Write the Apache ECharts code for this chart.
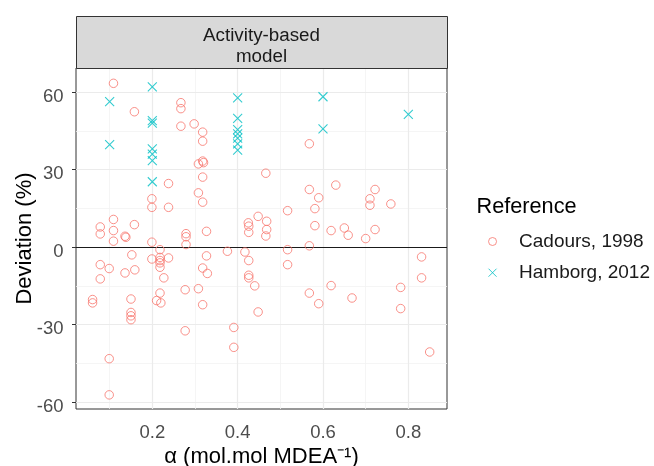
<!DOCTYPE html>
<html><head><meta charset="utf-8">
<script src="https://cdn.jsdelivr.net/npm/echarts@6/dist/echarts.min.js"></script>
<style>html,body{margin:0;padding:0;background:#fff}#c{width:654px;height:466px}</style>
</head><body><div id="c"></div>
<script>
// ---- data ----
const cadoursX = [0.109,0.158,0.267,0.267,0.267,0.298,0.318,0.318,0.318,0.320,0.308,0.318,0.238,0.308,0.318,0.199,0.199,0.238,0.466,0.109,
  0.158,0.078,0.078,0.109,0.109,0.136,0.138,0.199,0.279,0.279,0.279,0.327,0.448,0.425,0.426,0.426,0.468,0.468,0.466,0.568,
  0.568,0.630,0.590,0.722,0.710,0.710,0.759,0.581,0.517,0.581,0.619,0.650,0.659,0.722,0.700,0.568,0.517,0.517,0.831,0.831,
  0.440,0.568,0.590,0.619,0.668,0.782,0.782,0.448,0.850,0.218,0.199,0.218,0.218,0.218,0.218,0.238,0.152,0.078,0.099,0.136,
  0.159,0.078,0.227,0.218,0.210,0.220,0.150,0.150,0.150,0.150,0.060,0.060,0.277,0.277,0.327,0.318,0.329,0.308,0.318,0.376,
  0.417,0.426,0.426,0.426,0.391,0.391,0.099,0.099];
const cadoursY = [63.4,52.4,55.9,53.6,46.8,47.7,44.5,41.0,33.3,32.7,32.2,27.1,24.6,21.0,17.4,18.7,15.4,15.4,28.6,10.7,
  8.7,7.8,5.1,6.4,2.3,4.2,3.8,1.9,5.2,4.0,1.0,6.1,11.9,9.4,8.1,5.7,10.0,6.8,4.3,40.0,
  22.3,24.0,19.1,22.3,18.7,16.2,16.7,14.9,14.1,8.3,6.4,7.4,4.6,6.8,3.3,0.5,-1.0,-6.8,-3.8,-11.9,
  -15.0,-17.8,-21.9,-14.9,-19.7,-15.6,-23.8,-25.1,-40.6,-1.0,-4.6,-4.0,-5.2,-6.1,-7.8,-4.2,-3.0,-6.8,-8.3,-10.0,
  -8.8,-12.3,-11.9,-17.8,-20.7,-21.6,-20.1,-25.3,-26.6,-28.1,-20.3,-21.6,-16.5,-32.4,-3.4,-8.1,-10.2,-16.1,-22.3,-1.6,
  -1.9,-5.2,-10.9,-11.9,-31.1,-38.8,-43.2,-57.2];
const hamborgX = [0.1,0.1,0.2,0.2,0.2,0.2,0.2,0.2,0.2,0.4,0.4,0.4,0.4,0.4,0.4,0.4,0.6,0.6,0.8];
const hamborgY = [56.3,39.7,62.0,49.0,48.0,38.0,36.0,33.5,25.3,57.8,49.8,45.5,43.8,42.2,40.0,37.5,58.2,45.8,51.4];
const xTicks = [0.2,0.4,0.6,0.8];
const xMinor = [0.1,0.3,0.5,0.7];
const yTicks = [-60,-30,0,30,60];
const yMinor = [-45,-15,15,45];
const seriesNames = ['Cadours, 1998','Hamborg, 2012'];
const legendTitle = 'Reference';
const stripText = 'Activity-based\nmodel';
const xTitle = 'α (mol.mol MDEA⁻¹)';
const yTitle = 'Deviation (%)';

// ---- chart ----
const FONT = '"Liberation Sans", Arial, sans-serif';
const G = {left:76, top:68, width:371, height:341};
const zip = (a,b)=>a.map((v,i)=>[v,b[i]]);
const crossPath = 'path://M0,0L10,10M10,0L0,10';
const gridLines = [
  ...xMinor.map(v=>({xAxis:v, lineStyle:{color:'#F2F2F2', width:0.8, type:'solid'}})),
  ...yMinor.map(v=>({yAxis:v, lineStyle:{color:'#F2F2F2', width:0.8, type:'solid'}})),
  ...xTicks.map(v=>({xAxis:v, lineStyle:{color:'#EBEBEB', width:1.2, type:'solid'}})),
  ...yTicks.map(v=>({yAxis:v, lineStyle:{color:'#EBEBEB', width:1.2, type:'solid'}}))
];
const chart = echarts.init(document.getElementById('c'), null, {renderer:'canvas'});
chart.setOption({
  animation:false,
  backgroundColor:'#fff',
  textStyle:{fontFamily:FONT},
  grid:{left:G.left, top:G.top, width:G.width, height:G.height, containLabel:false, outerBoundsMode:'none',
    show:true, borderColor:'#333333', borderWidth:1, backgroundColor:'#fff', z:0},
  xAxis:{type:'value', min:0.02116, max:0.8906,
    name:xTitle, nameLocation:'middle', nameGap:37, nameMoveOverlap:false,
    nameTextStyle:{fontSize:22, color:'#000', fontFamily:FONT},
    axisLine:{show:false},
    axisTick:{show:true, customValues:xTicks, length:4, lineStyle:{color:'#333333', width:1}},
    axisLabel:{customValues:xTicks, formatter:v=>v.toFixed(1), fontSize:18.5, color:'#4D4D4D', margin:14, fontFamily:FONT},
    splitLine:{show:false}},
  yAxis:{type:'value', min:-62.67, max:69.33,
    name:yTitle, nameLocation:'middle', nameGap:40, nameRotate:90, nameMoveOverlap:false,
    nameTextStyle:{fontSize:22, color:'#000', fontFamily:FONT},
    axisLine:{show:false},
    axisTick:{show:true, customValues:yTicks, length:4, lineStyle:{color:'#333333', width:1}},
    axisLabel:{customValues:yTicks, fontSize:18.5, color:'#4D4D4D', margin:12.5, verticalAlign:'top', lineHeight:9, fontFamily:FONT},
    splitLine:{show:false}},
  legend:{orient:'vertical', right:4, top:231.5, padding:0, itemWidth:43, itemHeight:8, itemGap:11.2,
    data:seriesNames, selectedMode:false, symbolKeepAspect:true,
    itemStyle:{borderWidth:1},
    textStyle:{fontSize:19, color:'#1A1A1A', lineHeight:20, fontFamily:FONT}},
  graphic:[
    {type:'rect', left:G.left, top:16, shape:{width:G.width, height:52}, style:{fill:'#D9D9D9', stroke:'#333333', lineWidth:1}, z:10},
    {type:'text', x:G.left+G.width/2, y:46.3, style:{text:stripText, fill:'#1A1A1A', font:'18.8px '+FONT, textAlign:'center', textVerticalAlign:'middle', lineHeight:20.4}, z:11},
    {type:'text', x:476.5, y:206.7, style:{text:legendTitle, fill:'#000', font:'21.7px '+FONT, textAlign:'left', textVerticalAlign:'middle'}, z:11}
  ],
  series:[
    {type:'scatter', name:'grid', data:[], silent:true, z:1,
      markLine:{silent:true, symbol:['none','none'], label:{show:false}, z:1, animation:false, data:gridLines}},
    {type:'scatter', name:'zero', data:[], silent:true, z:1,
      markLine:{silent:true, symbol:['none','none'], label:{show:false}, z:2, animation:false,
        data:[{yAxis:0, lineStyle:{color:'#1A1A1A', width:1.1, type:'solid'}}]}},
    {type:'scatter', name:seriesNames[0], data:zip(cadoursX,cadoursY), symbol:'circle', symbolSize:8.5, z:3,
      itemStyle:{color:'rgba(0,0,0,0)', borderColor:'#F8766D', borderWidth:1}},
    {type:'scatter', name:seriesNames[1], data:zip(hamborgX,hamborgY), symbol:crossPath, symbolSize:9, z:3,
      itemStyle:{color:'rgba(0,0,0,0)', borderColor:'#00BFC4', borderWidth:1.1}}
  ]
});
</script></body></html>
